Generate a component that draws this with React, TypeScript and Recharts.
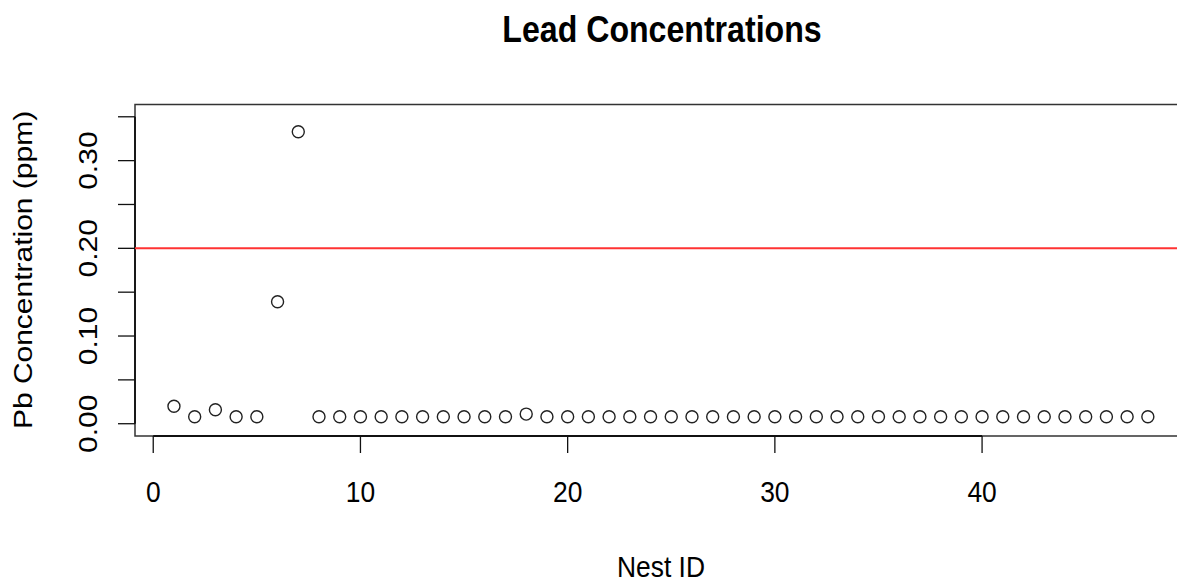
import React from 'react';
import { ScatterChart, Scatter, XAxis, YAxis, ReferenceLine, ReferenceArea } from 'recharts';

// Nest IDs and their lead readings (ppm)
const nestIds = [
  1, 2, 3, 4, 5, 6, 7, 8, 9, 10, 11, 12, 13, 14, 15, 16,
  17, 18, 19, 20, 21, 22, 23, 24, 25, 26, 27, 28, 29, 30, 31, 32,
  33, 34, 35, 36, 37, 38, 39, 40, 41, 42, 43, 44, 45, 46, 47, 48,
];
const pbValues = [
  0.020, 0.008, 0.016, 0.008, 0.008, 0.139, 0.333, 0.008, 0.008, 0.008, 0.008, 0.008, 0.008, 0.008, 0.008, 0.008,
  0.008, 0.011, 0.008, 0.008, 0.008, 0.008, 0.008, 0.008, 0.008, 0.008, 0.008, 0.008, 0.008, 0.008, 0.008, 0.008,
  0.008, 0.008, 0.008, 0.008, 0.008, 0.008, 0.008, 0.008, 0.008, 0.008, 0.008, 0.008, 0.008, 0.008, 0.008, 0.008,
];
const xTicks = [0, 10, 20, 30, 40];
const yTicks = [0, 0.05, 0.1, 0.15, 0.2, 0.25, 0.3, 0.35];
const yLabelTicks = [0, 0.1, 0.2, 0.3];
const threshold = 0.2;

// R-style padded ranges (4% each side)
const xDomain: [number, number] = [-0.88, 49.88];
const yDomain: [number, number] = [-0.014, 0.364];

const data = nestIds.map((id, i) => ({ id, pb: pbValues[i] }));

const FONT = '"Liberation Sans", Arial, Helvetica, sans-serif';
const SQUEEZE = 0.88;

const XTick = ({ x, y, payload }: any) => (
  <g transform={`translate(${x},${y + 49}) scale(${SQUEEZE},1)`}>
    <text x={0} y={0} textAnchor="middle" fontFamily={FONT} fontSize={30} fill="#000">
      {payload.value}
    </text>
  </g>
);

const YTick = ({ x, y, payload }: any) => {
  const v = payload.value;
  if (!yLabelTicks.some((t) => Math.abs(t - v) < 1e-9)) return <g />;
  return (
    <g transform={`translate(${x - 21},${y}) rotate(-90) scale(1,0.85)`}>
      <text x={0} y={0} textAnchor="middle" fontFamily={FONT} fontSize={30} fill="#000">
        {v.toFixed(2)}
      </text>
    </g>
  );
};

const Ring = (props: any) => (
  <circle cx={props.cx} cy={props.cy} r={6} fill="none" stroke="#222" strokeWidth={1.4} />
);

export default function App() {
  return (
    <div
      style={{
        position: 'fixed',
        top: 0,
        left: 0,
        width: 1177,
        height: 582,
        overflow: 'hidden',
        background: '#fff',
      }}
    >
      <ScatterChart width={1200} height={582} margin={{ top: 104.5, right: 13.2, bottom: 86, left: 75 }}>
        <XAxis
          type="number"
          dataKey="id"
          domain={xDomain}
          allowDataOverflow
          ticks={xTicks}
          interval={0}
          height={60}
          axisLine={false}
          tickSize={17}
          tickMargin={0}
          tickLine={{ stroke: '#111', strokeWidth: 1.3 }}
          tick={<XTick />}
        />
        <YAxis
          type="number"
          dataKey="pb"
          domain={yDomain}
          allowDataOverflow
          ticks={yTicks}
          interval={0}
          width={60}
          axisLine={false}
          tickSize={17}
          tickMargin={0}
          tickLine={{ stroke: '#111', strokeWidth: 1.3 }}
          tick={<YTick />}
        />
        <ReferenceArea
          x1={xDomain[0]}
          x2={xDomain[1]}
          y1={yDomain[0]}
          y2={yDomain[1]}
          fill="none"
          stroke="#333"
          strokeWidth={1.5}
          ifOverflow="visible"
        />
        <ReferenceLine
          segment={[{ x: 0, y: yDomain[0] }, { x: 40, y: yDomain[0] }]}
          stroke="#111"
          strokeWidth={1.8}
          ifOverflow="visible"
        />
        <ReferenceLine
          segment={[{ x: xDomain[0], y: 0 }, { x: xDomain[0], y: 0.35 }]}
          stroke="#111"
          strokeWidth={1.8}
          ifOverflow="visible"
        />
        <ReferenceLine y={threshold} stroke="#ff3333" strokeWidth={2} ifOverflow="visible" />
        <Scatter data={data} shape={<Ring />} isAnimationActive={false} />
      </ScatterChart>
      <svg
        width={1177}
        height={582}
        style={{ position: 'absolute', top: 0, left: 0, pointerEvents: 'none' }}
      >
        <g transform={`translate(662,42) scale(${SQUEEZE},1)`}>
          <text textAnchor="middle" fontFamily={FONT} fontWeight="bold" fontSize={36.5} fill="#000">
            Lead Concentrations
          </text>
        </g>
        <g transform={`translate(661,577) scale(${SQUEEZE},1)`}>
          <text textAnchor="middle" fontFamily={FONT} fontSize={30} fill="#000">
            Nest ID
          </text>
        </g>
        <g transform="translate(32,270) rotate(-90) scale(1,0.83)">
          <text textAnchor="middle" fontFamily={FONT} fontSize={30} fill="#000">
            Pb Concentration (ppm)
          </text>
        </g>
      </svg>
    </div>
  );
}
